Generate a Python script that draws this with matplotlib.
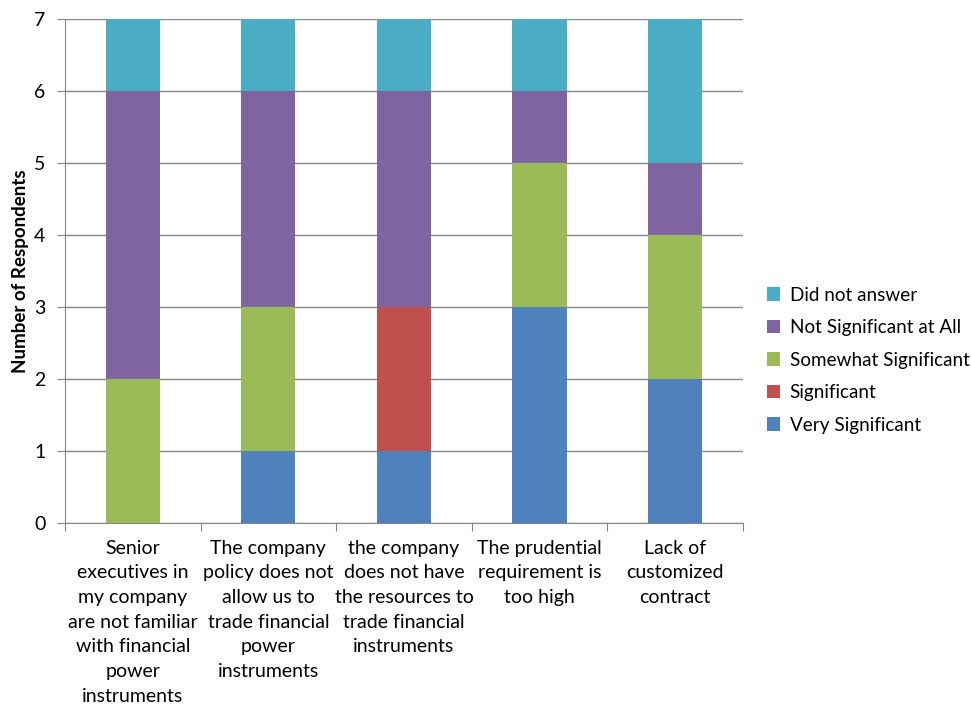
import numpy as np
import matplotlib.pyplot as plt

plt.rcParams['font.family'] = ['Lato', 'DejaVu Sans']

categories = [
    'Senior\nexecutives in\nmy company\nare not familiar\nwith financial\npower\ninstruments',
    'The company\npolicy does not\nallow us to\ntrade financial\npower\ninstruments',
    'the company\ndoes not have\nthe resources to\ntrade financial\ninstruments',
    'The prudential\nrequirement is\ntoo high',
    'Lack of\ncustomized\ncontract',
]
very_significant = [0, 1, 1, 3, 2]
significant = [0, 0, 2, 0, 0]
somewhat_significant = [2, 2, 0, 2, 2]
not_significant = [4, 3, 3, 1, 1]
did_not_answer = [1, 1, 1, 1, 2]

series = [
    ('Very Significant', very_significant, '#4F81BD'),
    ('Significant', significant, '#C0504D'),
    ('Somewhat Significant', somewhat_significant, '#9BBB59'),
    ('Not Significant at All', not_significant, '#8064A2'),
    ('Did not answer', did_not_answer, '#4BACC6'),
]

fig = plt.figure(figsize=(9.71, 7.06), dpi=100)
ax = fig.add_axes([0.0669, 0.2592, 0.6983, 0.7139])

x = np.arange(len(categories))
bottom = np.zeros(len(categories))
for nom, valeurs, couleur in series:
    ax.bar(x, valeurs, 0.4, bottom=bottom, color=couleur, label=nom, zorder=3)
    bottom += np.array(valeurs)

ax.set_xlim(-0.5, len(categories) - 0.5)
ax.set_ylim(0, 7)
ax.set_yticks(range(0, 8))
ax.yaxis.grid(True, color='#868686', linewidth=1, zorder=0)

# ticks aux limites des catégories, libellés au centre
ax.set_xticks(np.arange(-0.5, len(categories), 1))
ax.set_xticklabels([])
ax.set_xticks(x, minor=True)
ax.set_xticklabels(categories, minor=True, fontsize=14, linespacing=1.55)
ax.tick_params(axis='x', which='minor', length=0, pad=12)
ax.tick_params(axis='x', which='major', length=6, color='#868686', direction='out')
ax.tick_params(axis='y', length=6, color='#868686', labelsize=14, pad=8)

for side in ['top', 'right']:
    ax.spines[side].set_visible(False)
for side in ['left', 'bottom']:
    ax.spines[side].set_color('#868686')

ax.set_ylabel('Number of Respondents', fontsize=13.5, fontweight='bold', labelpad=4)

handles, labels = ax.get_legend_handles_labels()
fig.legend(handles[::-1], labels[::-1], loc='center left', bbox_to_anchor=(0.79, 0.49),
           frameon=False, fontsize=13.6, handlelength=0.7, handleheight=0.7,
           handletextpad=0.5, labelspacing=0.82, borderpad=0, borderaxespad=0)

fig.savefig('out.png', dpi=100)
